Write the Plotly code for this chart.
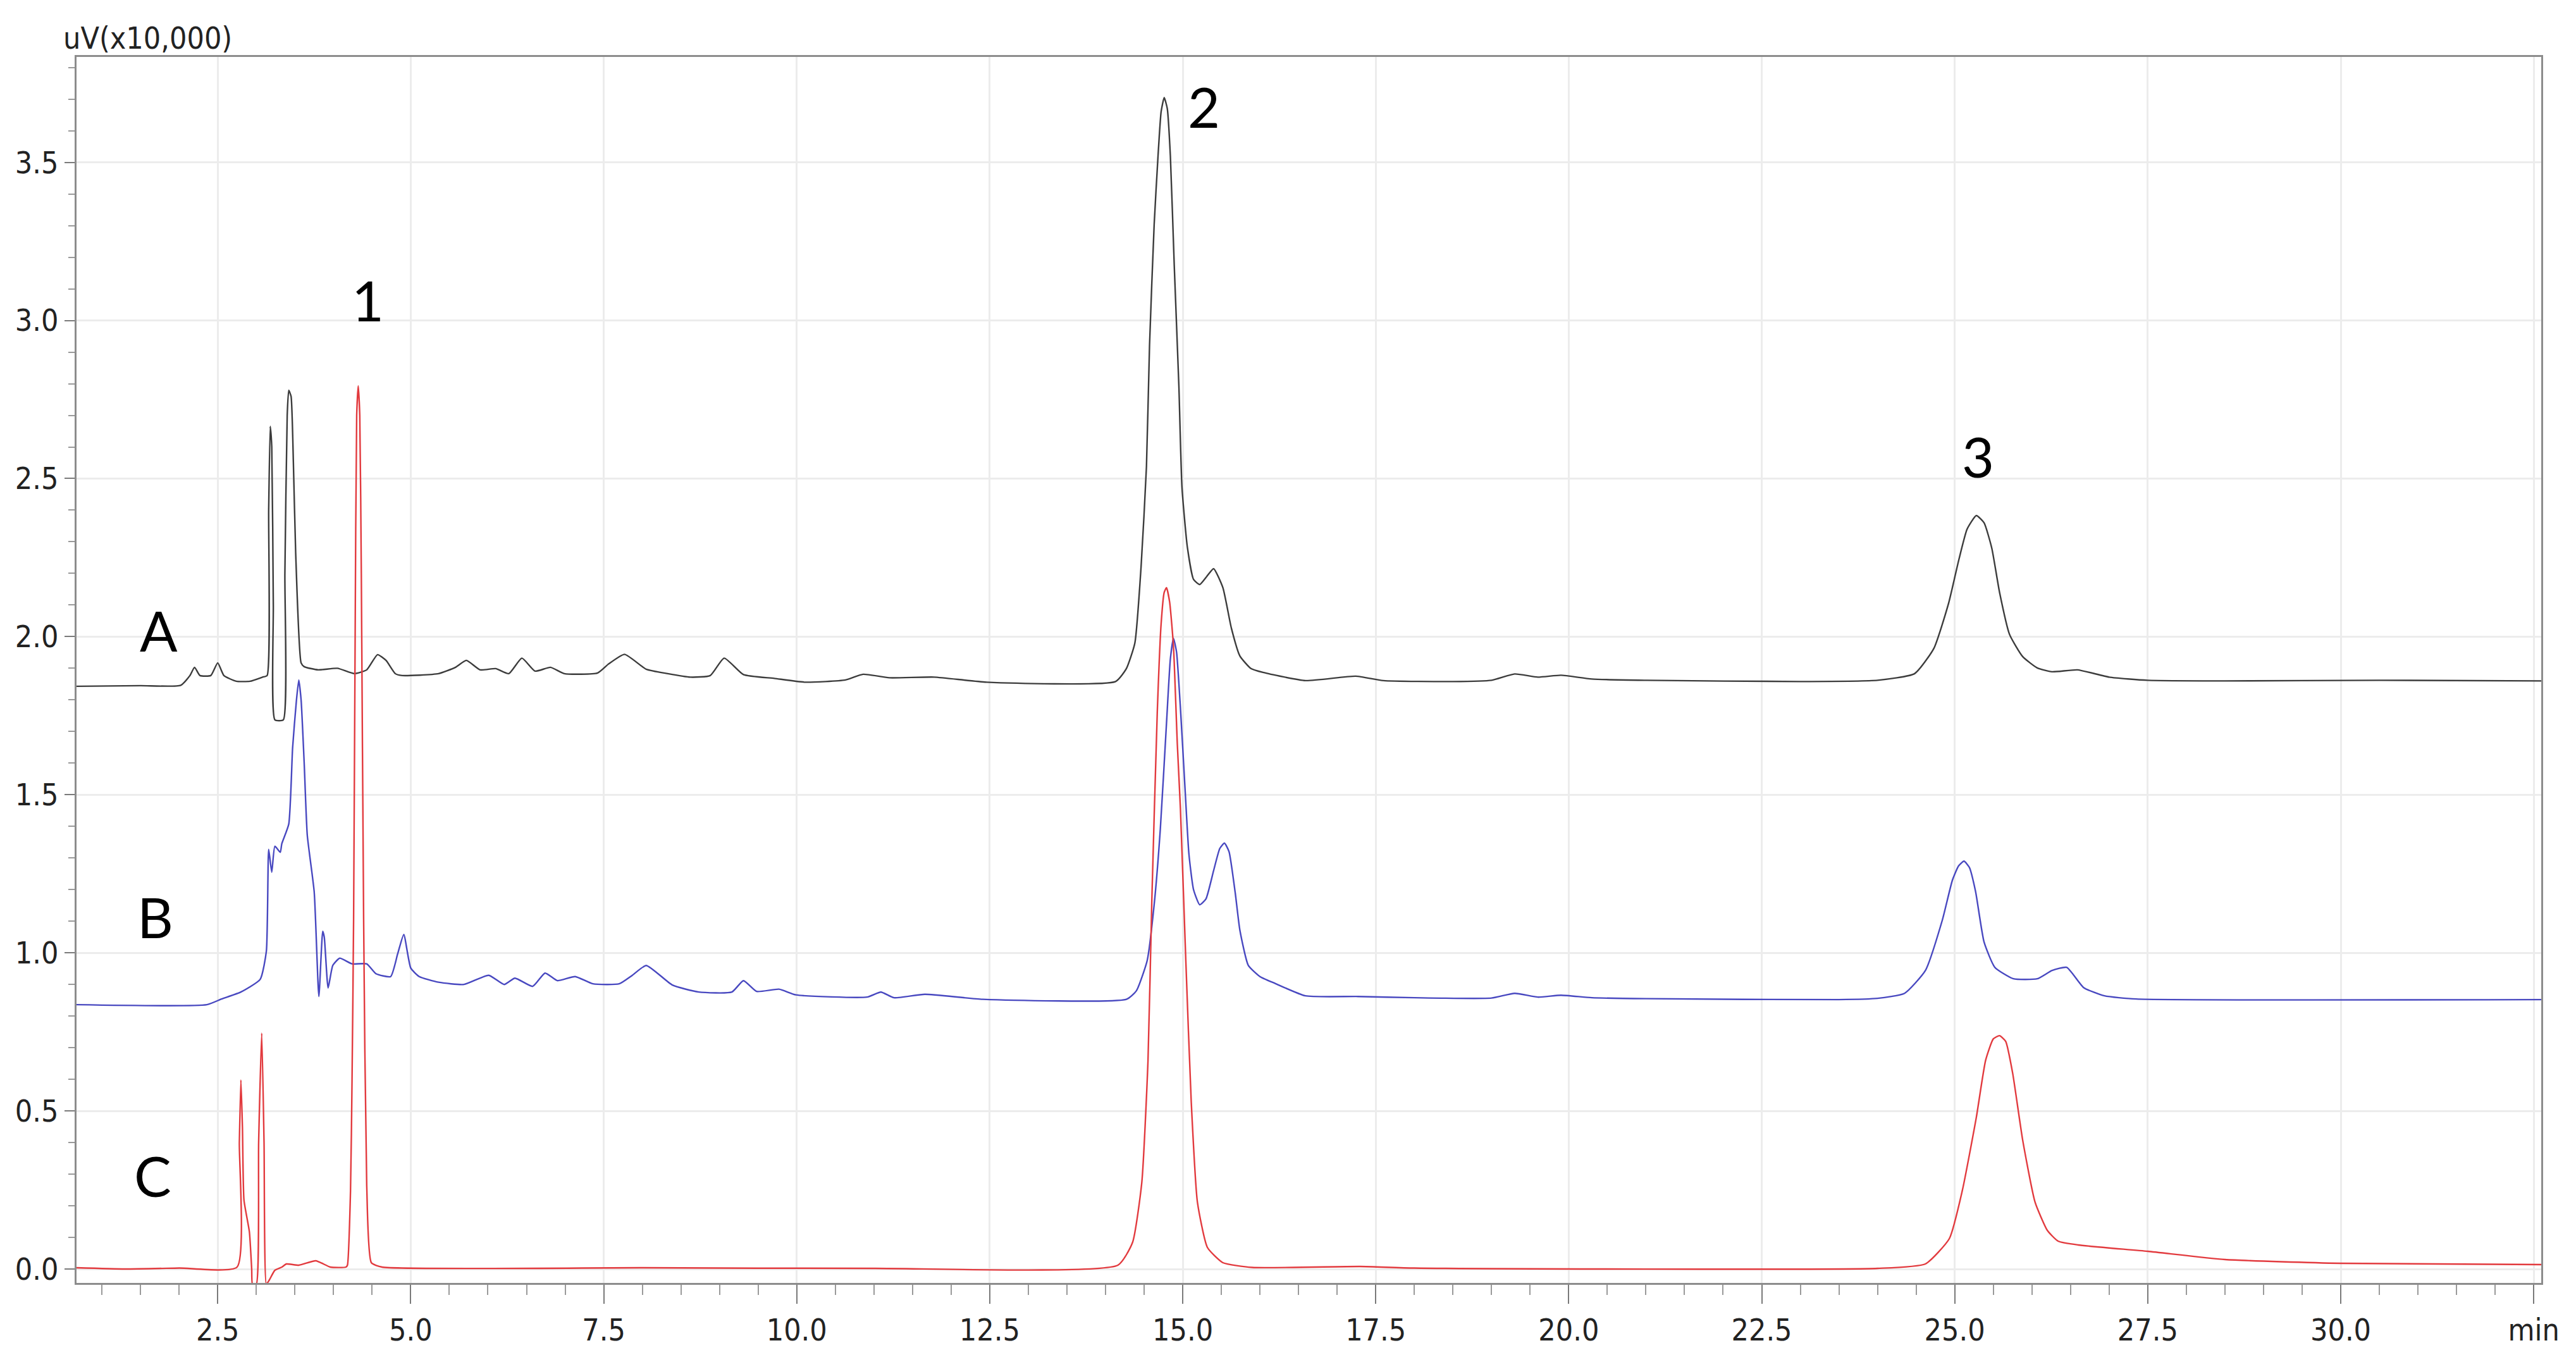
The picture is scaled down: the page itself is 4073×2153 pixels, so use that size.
import plotly.graph_objects as go

# retention time (min) / signal (uV x10,000)
a_time = [0.67, 1.5, 2.02, 2.14, 2.20, 2.27, 2.41, 2.50, 2.58, 2.74, 2.92, 3.08, 3.14, 3.16, 3.18, 3.20,
          3.22, 3.24, 3.35, 3.37, 3.40, 3.42, 3.45, 3.48, 3.51, 3.58, 3.62, 3.80, 4.05, 4.27, 4.43, 4.57,
          4.68, 4.80, 4.89, 5.36, 5.58, 5.72, 5.90, 6.10, 6.27, 6.44, 6.61, 6.81, 6.99, 7.42, 7.56, 7.77,
          8.05, 8.33, 8.62, 8.88, 9.06, 9.31, 9.71, 10.11, 10.63, 10.86, 11.20, 11.78, 12.46, 14.13, 14.27,
          14.38, 14.46, 14.53, 14.57, 14.63, 14.68, 14.72, 14.76, 14.80, 14.84, 14.89, 14.95, 14.99, 15.06,
          15.14, 15.22, 15.31, 15.40, 15.52, 15.63, 15.74, 15.88, 16.04, 16.59, 17.24, 17.6, 18.5, 19.0,
          19.3, 19.6, 19.9, 20.3, 21.0, 23.0, 24.0, 24.48, 24.73, 24.92, 25.05, 25.16, 25.28, 25.38, 25.48,
          25.58, 25.71, 25.88, 26.07, 26.26, 26.59, 27.0, 27.5, 28.5, 30.5, 32.6]
a_signal = [1.843, 1.845, 1.846, 1.877, 1.903, 1.877, 1.877, 1.917, 1.877, 1.859, 1.859, 1.872, 1.877, 2.40,
            2.665, 2.60, 2.10, 1.737, 1.737, 2.20, 2.70, 2.779, 2.76, 2.55, 2.263, 1.917, 1.905, 1.895, 1.90,
            1.883, 1.895, 1.943, 1.925, 1.883, 1.877, 1.883, 1.903, 1.925, 1.895, 1.899, 1.883, 1.932, 1.891,
            1.903, 1.883, 1.885, 1.913, 1.944, 1.897, 1.883, 1.872, 1.877, 1.932, 1.880, 1.868, 1.856, 1.863,
            1.881, 1.870, 1.872, 1.856, 1.858, 1.899, 1.98, 2.219, 2.537, 2.921, 3.303, 3.52, 3.66, 3.705,
            3.67, 3.52, 3.175, 2.793, 2.473, 2.283, 2.181, 2.165, 2.19, 2.215, 2.155, 2.027, 1.939, 1.90,
            1.887, 1.861, 1.875, 1.861, 1.858, 1.862, 1.882, 1.872, 1.878, 1.866, 1.862, 1.858, 1.862, 1.883,
            1.963, 2.105, 2.24, 2.34, 2.383, 2.36, 2.28, 2.141, 2.007, 1.937, 1.901, 1.889, 1.895, 1.872,
            1.862, 1.86, 1.862, 1.86]

b_time = [0.67, 2.36, 2.55, 2.80, 3.05, 3.13, 3.16, 3.20, 3.24, 3.31, 3.33, 3.42, 3.47, 3.52, 3.55, 3.58,
          3.62, 3.66, 3.75, 3.81, 3.86, 3.88, 3.93, 3.99, 4.08, 4.24, 4.43, 4.55, 4.74, 4.83, 4.91, 5.00,
          5.11, 5.36, 5.69, 6.01, 6.21, 6.35, 6.58, 6.74, 6.90, 7.13, 7.36, 7.70, 7.87, 8.05, 8.39, 8.73,
          9.16, 9.31, 9.48, 9.77, 9.99, 10.91, 11.09, 11.26, 11.66, 12.41, 14.27, 14.40, 14.54, 14.63,
          14.71, 14.79, 14.84, 14.88, 14.92, 14.97, 15.03, 15.08, 15.14, 15.22, 15.30, 15.40, 15.48, 15.54,
          15.60, 15.68, 15.74, 15.85, 16.0, 16.18, 16.59, 17.27, 18.0, 19.0, 19.3, 19.6, 19.9, 20.3, 21.0,
          23.5, 24.0, 24.35, 24.62, 24.84, 24.97, 25.05, 25.12, 25.19, 25.27, 25.38, 25.52, 25.76, 26.07,
          26.26, 26.45, 26.67, 26.94, 27.35, 32.6]
b_signal = [0.836, 0.836, 0.854, 0.876, 0.916, 1.005, 1.327, 1.255, 1.337, 1.318, 1.345, 1.407, 1.649, 1.80,
            1.863, 1.80, 1.60, 1.372, 1.192, 0.862, 1.068, 1.05, 0.889, 0.960, 0.983, 0.965, 0.965, 0.934,
            0.925, 0.996, 1.058, 0.952, 0.925, 0.907, 0.900, 0.929, 0.900, 0.920, 0.894, 0.936, 0.912, 0.925,
            0.902, 0.902, 0.929, 0.960, 0.898, 0.876, 0.876, 0.912, 0.878, 0.885, 0.867, 0.860, 0.876, 0.858,
            0.869, 0.853, 0.853, 0.880, 0.976, 1.152, 1.392, 1.727, 1.93, 1.995, 1.951, 1.775, 1.519, 1.313,
            1.20, 1.152, 1.17, 1.26, 1.33, 1.347, 1.32, 1.19, 1.072, 0.960, 0.925, 0.905, 0.864, 0.862, 0.858,
            0.857, 0.872, 0.86, 0.866, 0.858, 0.855, 0.852, 0.856, 0.872, 0.944, 1.104, 1.230, 1.275, 1.29,
            1.27, 1.194, 1.034, 0.954, 0.918, 0.918, 0.944, 0.954, 0.890, 0.864, 0.854, 0.852]

c_time = [0.67, 1.3, 2.0, 2.75, 2.78, 2.80, 2.82, 2.84, 2.91, 2.94, 2.95, 3.0, 3.03, 3.07, 3.10, 3.13,
          3.17, 3.24, 3.33, 3.39, 3.55, 3.77, 3.96, 4.16, 4.18, 4.22, 4.24, 4.26, 4.28, 4.30, 4.32, 4.34,
          4.36, 4.39, 4.43, 4.49, 4.63, 8.0, 11.0, 14.16, 14.35, 14.47, 14.55, 14.60, 14.67, 14.72, 14.76,
          14.79, 14.83, 14.88, 14.93, 14.97, 15.04, 15.11, 15.19, 15.32, 15.52, 15.9, 17.3, 18.0, 24.0,
          24.62, 24.93, 25.10, 25.28, 25.40, 25.50, 25.58, 25.66, 25.75, 25.88, 26.04, 26.20, 26.34, 26.6,
          27.5, 28.5, 30.0, 32.6]
c_signal = [0.004, 0.0, 0.003, 0.006, 0.40, 0.598, 0.45, 0.218, 0.118, 0.0, -0.048, -0.048, 0.40, 0.746,
            0.40, -0.048, -0.034, -0.004, 0.006, 0.016, 0.012, 0.026, 0.006, 0.006, 0.012, 0.246, 0.60, 1.106,
            2.0, 2.7, 2.793, 2.7, 2.2, 1.106, 0.264, 0.02, 0.006, 0.004, 0.002, 0.012, 0.084, 0.274, 0.658,
            1.168, 1.759, 2.04, 2.14, 2.155, 2.11, 1.97, 1.66, 1.456, 0.976, 0.530, 0.212, 0.068, 0.02, 0.005,
            0.008, 0.003, 0.002, 0.016, 0.096, 0.25, 0.48, 0.66, 0.728, 0.738, 0.72, 0.62, 0.408, 0.212, 0.122,
            0.088, 0.076, 0.056, 0.030, 0.018, 0.014]

# trace labels and peak numbers
label_text = ["A", "B", "C", "1", "2", "3"]
label_x = [1.74, 1.69, 1.66, 4.44, 15.27, 25.30]
label_y = [2.02, 1.115, 0.296, 3.066, 3.677, 2.571]

x_major = [2.5, 5.0, 7.5, 10.0, 12.5, 15.0, 17.5, 20.0, 22.5, 25.0, 27.5, 30.0, 32.5]
x_major_text = ["2.5", "5.0", "7.5", "10.0", "12.5", "15.0", "17.5", "20.0", "22.5", "25.0", "27.5", "30.0", "min"]
y_major = [0.0, 0.5, 1.0, 1.5, 2.0, 2.5, 3.0, 3.5]

narrow = "DejaVu Sans Condensed, Liberation Sans Narrow, Arial Narrow, sans-serif"

fig = go.Figure()
fig.add_trace(go.Scatter(x=a_time, y=a_signal, mode="lines",
                         line=dict(color="#3c3c3c", width=2.4, shape="spline", smoothing=0.5)))
fig.add_trace(go.Scatter(x=b_time, y=b_signal, mode="lines",
                         line=dict(color="#4848c0", width=2.4, shape="spline", smoothing=0.5)))
fig.add_trace(go.Scatter(x=c_time, y=c_signal, mode="lines",
                         line=dict(color="#e23a3e", width=2.4, shape="spline", smoothing=0.5)))

for t, x, y in zip(label_text, label_x, label_y):
    fig.add_annotation(x=x, y=y, text=t, showarrow=False, xanchor="center", yanchor="middle",
                       font=dict(family="Lato, Open Sans, sans-serif", size=88, color="#000000"))

fig.add_annotation(xref="paper", yref="paper", x=-0.006, y=1.0155, text="uV(x10,000)", showarrow=False,
                   xanchor="left", yanchor="middle", font=dict(family=narrow, size=48, color="#222222"))

# page body has an 8px margin, so the figure is shrunk by that much
fig.update_layout(
    width=4065, height=2145,
    margin=dict(l=113, r=55, t=82, b=125),
    paper_bgcolor="white", plot_bgcolor="white",
    showlegend=False,
    font=dict(family=narrow, size=48, color="#222222"),
    xaxis=dict(range=[0.671, 32.597], tickvals=x_major, ticktext=x_major_text,
               ticks="outside", ticklen=30, tickwidth=2, tickcolor="#7a7a7a",
               showgrid=True, gridcolor="#ececec", gridwidth=2.5, zeroline=False,
               showline=True, mirror=True, linecolor="#8c8c8c", linewidth=3,
               minor=dict(dtick=0.5, tick0=0, ticks="outside", ticklen=16, tickwidth=2,
                          tickcolor="#9a9a9a", showgrid=False)),
    yaxis=dict(range=[-0.044, 3.8335], tickvals=y_major, tickformat=".1f",
               ticks="outside", ticklen=16, tickwidth=2, tickcolor="#7a7a7a",
               showgrid=True, gridcolor="#ececec", gridwidth=2.5, zeroline=False,
               showline=True, mirror=True, linecolor="#8c8c8c", linewidth=3,
               minor=dict(dtick=0.1, tick0=0, ticks="outside", ticklen=10, tickwidth=2,
                          tickcolor="#9a9a9a", showgrid=False)),
)

fig.write_html("out.html")
